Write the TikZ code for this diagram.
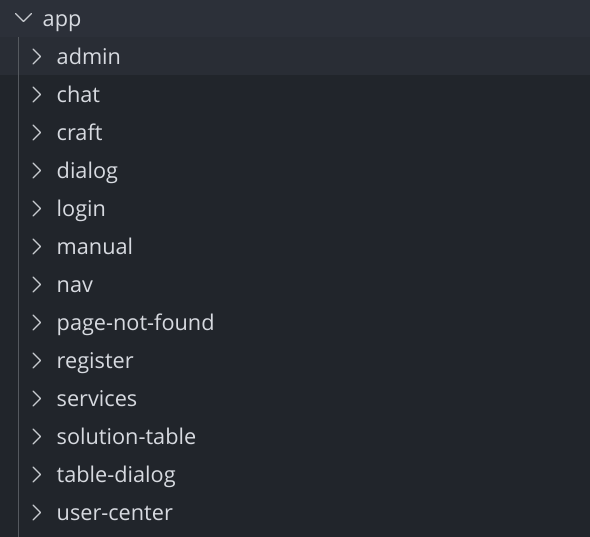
\documentclass[tikz,border=0pt]{standalone}
\usepackage{fontspec}
\setmainfont{Open Sans}
\definecolor{sidebg}{HTML}{21252B}
\definecolor{rowtop}{HTML}{2C3039}
\definecolor{rowhover}{HTML}{292D35}
\definecolor{fg}{HTML}{D7DAE0}
\definecolor{chev}{HTML}{C8CBD0}
\definecolor{guide}{HTML}{55595F}
\tikzset{
  item/.style={anchor=base west, inner sep=0pt, text=fg, font=\fontsize{21.7bp}{26bp}\selectfont},
  chevron/.style={draw=chev, line width=1.3bp, line cap=round, line join=round},
}
\begin{document}
\begin{tikzpicture}[x=1bp,y=-1bp]
\useasboundingbox (0,0) rectangle (590,537);
\fill[sidebg] (0,0) rectangle (590,537);
\fill[rowtop] (0,0) rectangle (590,37);
\fill[rowhover] (0,37) rectangle (590,75);
\draw[guide, line width=1bp] (18.5,37) -- (18.5,537);
% root folder
\draw[chevron] (15.5,13.5) -- (23.5,21.5) -- (31.5,13.5);
\node[item] (app) at (42.5,26.5) {app};
% child folders
\foreach \name [count=\i from 1] in {admin,chat,craft,dialog,login,manual,nav,page-not-found,register,services,solution-table,table-dialog,user-center}{
  \pgfmathsetmacro{\cy}{18.5+38*\i}
  \draw[chevron] (33,\cy-7.5) -- (40.5,\cy) -- (33,\cy+7.5);
  \node[item] (n\i) at (56.5,\cy+8) {\name};
}
\end{tikzpicture}
\end{document}
